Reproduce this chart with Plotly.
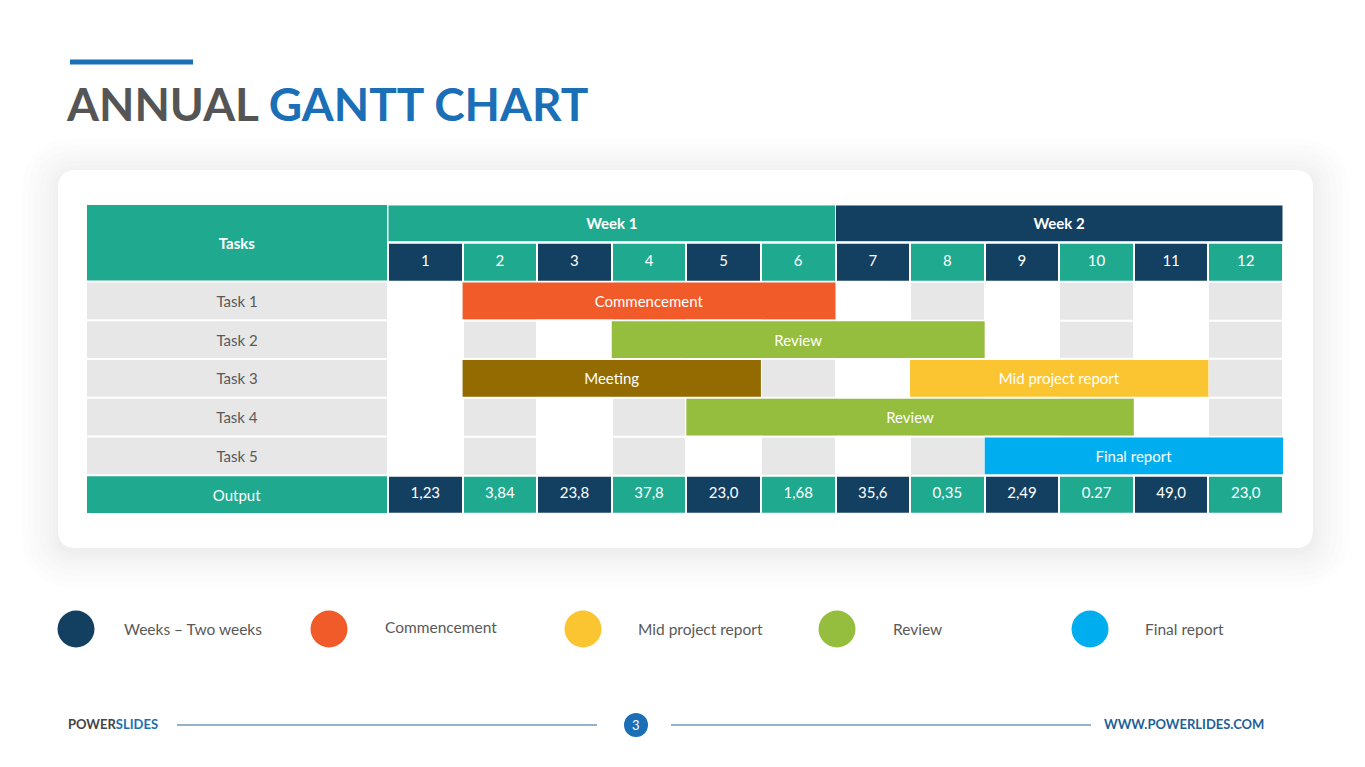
import plotly.graph_objects as go

W, H = 1365, 767
OFF = 8  # page body margin

# ---------------- data ----------------
weeks = list(range(1, 13))
week_groups = ["Week 1", "Week 2"]
week_group_start = [1, 7]
week_group_end = [6, 12]
tasks = ["Task 1", "Task 2", "Task 3", "Task 4", "Task 5"]
bar_task = [1, 2, 3, 3, 4, 5]
bar_label = ["Commencement", "Review", "Meeting", "Mid project report", "Review", "Final report"]
bar_start = [2, 4, 2, 8, 5, 9]
bar_end = [6, 8, 5, 11, 10, 12]
outputs = ["1,23", "3,84", "23,8", "37,8", "23,0", "1,68", "35,6", "0,35", "2,49", "0.27", "49,0", "23,0"]
legend_labels = ["Weeks – Two weeks", "Commencement", "Mid project report", "Review", "Final report"]

# ---------------- styles ----------------
NAVY = "#133f61"
TEAL = "#1fa98f"
GRAY = "#e7e7e7"
TXT = "#595959"
BLUE = "#1b6fb6"
bar_colors = {
    "Commencement": "#f15a29",
    "Review": "#95bd3e",
    "Meeting": "#936b00",
    "Mid project report": "#fbc531",
    "Final report": "#00aeef",
}
legend_colors = [NAVY, "#f15a29", "#fbc531", "#95bd3e", "#00aeef"]
legend_cx = [76, 329, 583, 837, 1090]
legend_tx = [122, 383, 636, 891, 1143]
legend_ty = [629, 627, 629, 629, 629]
FONT = "Lato"

# axis geometry: week columns 1 unit, rows 1 unit
col_w = (1283 - 388) / 12.0
x0r = 0.5 - (388 - OFF) / col_w
x1r = x0r + W / col_w
row_h = (514 - 204) / 8.0
y0r = -1.5 - (204 - OFF) / row_h
y1r = y0r + H / row_h
label_left = 0.5 + (87 - 388) / col_w
label_len = 0.5 - 1.0 / col_w - label_left


def px(x):
    return (x - OFF) / W


def py(y):
    return 1 - (y - OFF) / H


def rrect(x0, y0, x1, y1, r):
    return (f"M {px(x0 + r)},{py(y0)} L {px(x1 - r)},{py(y0)} Q {px(x1)},{py(y0)} {px(x1)},{py(y0 + r)} "
            f"L {px(x1)},{py(y1 - r)} Q {px(x1)},{py(y1)} {px(x1 - r)},{py(y1)} "
            f"L {px(x0 + r)},{py(y1)} Q {px(x0)},{py(y1)} {px(x0)},{py(y1 - r)} "
            f"L {px(x0)},{py(y0 + r)} Q {px(x0)},{py(y0)} {px(x0 + r)},{py(y0)} Z")


fig = go.Figure()

# background grid cells (heatmap): 0 white, 1 gray, 2 navy, 3 teal
rows = list(range(0, 7))
z = []
for r in rows:
    if r == 0 or r == 6:
        z.append([2 if w % 2 else 3 for w in weeks])
    else:
        z.append([0 if w % 2 else 1 for w in weeks])
fig.add_trace(go.Heatmap(
    x=weeks, y=rows, z=z, zmin=0, zmax=3, showscale=False, xgap=2, ygap=2,
    colorscale=[[0, "#ffffff"], [1 / 3, GRAY], [2 / 3, NAVY], [1, TEAL]],
    hoverinfo="skip"))

# week group header
fig.add_trace(go.Bar(
    orientation="h", y=[-1] * len(week_groups),
    base=[s - 0.5 for s in week_group_start],
    x=[e - s + 1 for s, e in zip(week_group_start, week_group_end)],
    width=0.95, marker=dict(color=[TEAL, NAVY], line=dict(color="white", width=1)),
    text=[f"<b>{g}</b>" for g in week_groups], textposition="inside", insidetextanchor="middle",
    constraintext="none", textfont=dict(family=FONT, size=15, color="white"),
    hoverinfo="skip", showlegend=False))

# task label column
lab_y = [-0.5] + list(range(1, len(tasks) + 1)) + [6]
lab_text = ["<b>Tasks</b>"] + tasks + ["Output"]
lab_col = [TEAL] + [GRAY] * len(tasks) + [TEAL]
lab_tcol = ["white"] + [TXT] * len(tasks) + ["white"]
lab_w = [1.95] + [0.95] * len(tasks) + [0.95]
fig.add_trace(go.Bar(
    orientation="h", y=lab_y, base=[label_left] * len(lab_y), x=[label_len] * len(lab_y),
    width=lab_w, marker=dict(color=lab_col, line=dict(width=0)),
    text=lab_text, textposition="inside", insidetextanchor="middle", constraintext="none",
    textfont=dict(family=FONT, size=15, color=lab_tcol), hoverinfo="skip", showlegend=False))

# gantt bars
fig.add_trace(go.Bar(
    orientation="h", y=bar_task, base=[s - 0.5 for s in bar_start],
    x=[e - s + 1 for s, e in zip(bar_start, bar_end)], width=0.95,
    marker=dict(color=[bar_colors[l] for l in bar_label], line=dict(width=0)),
    text=bar_label, textposition="inside", insidetextanchor="middle", constraintext="none",
    textfont=dict(family=FONT, size=15, color="white"), hoverinfo="skip", showlegend=False))

# week numbers and outputs
fig.add_trace(go.Scatter(x=weeks, y=[0] * len(weeks), mode="text", text=[str(w) for w in weeks],
                         textfont=dict(family=FONT, size=15, color="white"), hoverinfo="skip", showlegend=False))
fig.add_trace(go.Scatter(x=weeks, y=[6] * len(weeks), mode="text", text=outputs,
                         textfont=dict(family=FONT, size=15, color="white"), hoverinfo="skip", showlegend=False))

shapes = []
# card shadow + card
for i, d in enumerate([36, 30, 24, 18, 13, 9, 5, 2]):
    shapes.append(dict(type="path", xref="paper", yref="paper", layer="below",
                       path=rrect(58 - d, 170 - d + 4, 1313 + d, 548 + d + 4, 18 + d),
                       fillcolor="rgba(0,0,0,0.008)", line=dict(width=0)))
shapes.append(dict(type="path", xref="paper", yref="paper", layer="below",
                   path=rrect(58, 170, 1313, 548, 18), fillcolor="white", line=dict(width=0)))
# title bar
shapes.append(dict(type="line", xref="paper", yref="paper", x0=px(70), x1=px(193), y0=py(62), y1=py(62),
                   line=dict(color=BLUE, width=5)))
# legend circles
for cx, c in zip(legend_cx, legend_colors):
    shapes.append(dict(type="circle", xref="paper", yref="paper", x0=px(cx - 18.5), x1=px(cx + 18.5),
                       y0=py(629 + 18.5), y1=py(629 - 18.5), fillcolor=c, line=dict(width=0)))
# footer
shapes.append(dict(type="line", xref="paper", yref="paper", x0=px(177), x1=px(597), y0=py(725), y1=py(725),
                   line=dict(color="#2d6491", width=1)))
shapes.append(dict(type="line", xref="paper", yref="paper", x0=px(671), x1=px(1091), y0=py(725), y1=py(725),
                   line=dict(color="#2d6491", width=1)))
shapes.append(dict(type="circle", xref="paper", yref="paper", x0=px(624), x1=px(648), y0=py(737), y1=py(713),
                   fillcolor=BLUE, line=dict(width=0)))

annotations = []
annotations.append(dict(xref="paper", yref="paper", x=px(64), y=py(103), xanchor="left", yanchor="middle",
                        showarrow=False,
                        text='<span style="color:#555555">ANNUAL</span> <span style="color:#1b6fb6">GANTT CHART</span>',
                        font=dict(family=FONT, size=46, weight="bold")))
for tx, ty, lab in zip(legend_tx, legend_ty, legend_labels):
    annotations.append(dict(xref="paper", yref="paper", x=px(tx), y=py(ty), xanchor="left", yanchor="middle",
                            showarrow=False, text=lab, font=dict(family=FONT, size=15.5, color=TXT)))
annotations.append(dict(xref="paper", yref="paper", x=px(66), y=py(724), xanchor="left", yanchor="middle",
                        showarrow=False,
                        text='<span style="color:#444444">POWER</span><span style="color:#1b6fb6">SLIDES</span>',
                        font=dict(family=FONT, size=13, weight="bold")))
annotations.append(dict(xref="paper", yref="paper", x=px(1266), y=py(724), xanchor="right", yanchor="middle",
                        showarrow=False, text="WWW.POWERLIDES.COM",
                        font=dict(family=FONT, size=13, weight="bold", color="#1f5f99")))
annotations.append(dict(xref="paper", yref="paper", x=px(636), y=py(725), xanchor="center", yanchor="middle",
                        showarrow=False, text="3", font=dict(family=FONT, size=13, color="white")))

fig.update_layout(
    width=W, height=H, margin=dict(l=0, r=0, t=0, b=0),
    paper_bgcolor="white", plot_bgcolor="rgba(0,0,0,0)",
    barmode="overlay", showlegend=False,
    xaxis=dict(range=[x0r, x1r], visible=False, fixedrange=True, domain=[0, 1]),
    yaxis=dict(range=[y1r, y0r], visible=False, fixedrange=True, domain=[0, 1]),
    shapes=shapes, annotations=annotations,
)

fig.write_html("out.html")
